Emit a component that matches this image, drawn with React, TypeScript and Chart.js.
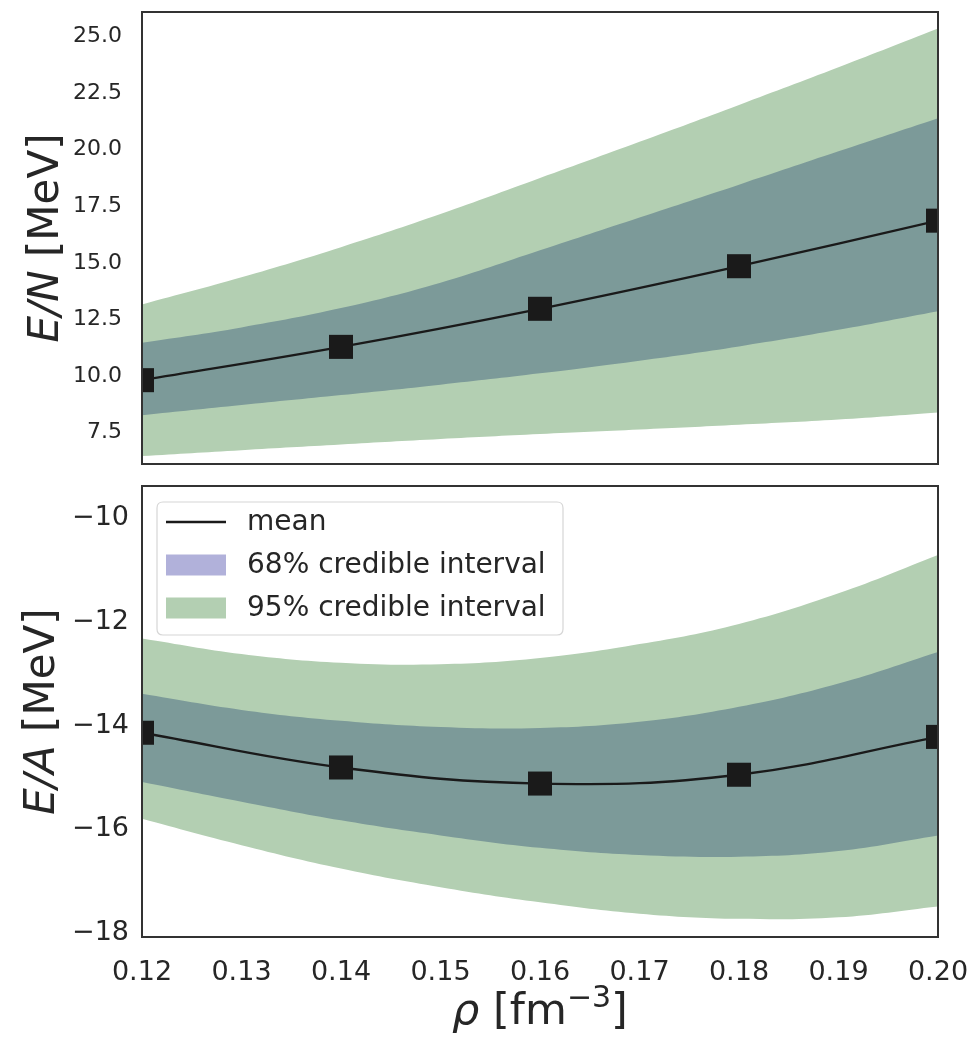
import React, { useEffect, useRef } from 'react';
import { Chart, registerables } from 'chart.js';

Chart.register(...registerables);

// ---------- data ----------
const rhoMean = [0.12, 0.14, 0.16, 0.18, 0.2];
const rhoBand = [0.12, 0.13, 0.14, 0.15, 0.16, 0.17, 0.18, 0.19, 0.2];
const rhoTicks = [0.12, 0.13, 0.14, 0.15, 0.16, 0.17, 0.18, 0.19, 0.2];

// E/N (top panel)
const enMean = [9.82, 11.29, 12.97, 14.85, 16.86];
const en95Upper = [13.16, 14.36, 15.69, 17.15, 18.74, 20.34, 21.97, 23.63, 25.34];
const en68Upper = [11.47, 12.15, 13.0, 14.12, 15.55, 17.0, 18.45, 19.92, 21.38];
const en68Lower = [8.27, 8.72, 9.16, 9.62, 10.12, 10.68, 11.31, 12.04, 12.86];
const en95Lower = [6.47, 6.73, 6.98, 7.22, 7.44, 7.64, 7.85, 8.08, 8.39];
const enTicks = [7.5, 10, 12.5, 15, 17.5, 20, 22.5, 25];

// E/A (bottom panel)
const eaMean = [-14.14, -14.81, -15.12, -14.95, -14.22];
const ea95Upper = [-12.32, -12.62, -12.79, -12.82, -12.7, -12.43, -12.04, -11.45, -10.71];
const ea68Upper = [-13.39, -13.7, -13.91, -14.03, -14.05, -13.93, -13.64, -13.19, -12.58];
const ea68Lower = [-15.09, -15.47, -15.83, -16.12, -16.36, -16.5, -16.53, -16.42, -16.12];
const ea95Lower = [-15.8, -16.31, -16.76, -17.12, -17.41, -17.63, -17.73, -17.7, -17.49];
const eaTicks = [-18, -16, -14, -12, -10];

const legendLabels = ['mean', '68% credible interval', '95% credible interval'];

// ---------- style ----------
const FAMILY = '"DejaVu Sans"';
const GREEN = 'rgb(179,207,178)';
const TEAL = 'rgb(124,154,153)';
const LAVENDER = 'rgb(177,177,218)';
const INK = '#262626';
const MEAN = '#1a1a1a';

const pts = (xs: number[], ys: number[]) => xs.map((x, i) => ({ x, y: ys[i] }));

function makeDatasets(mean: number[], u68: number[], l68: number[], u95: number[], l95: number[]) {
  const band = {
    borderWidth: 0,
    borderColor: 'rgba(0,0,0,0)',
    pointRadius: 0,
    tension: 0.4,
  };
  return [
    {
      label: legendLabels[0],
      data: pts(rhoMean, mean),
      borderColor: MEAN,
      borderWidth: 2.3,
      pointStyle: 'rect',
      pointRadius: 17,
      pointBackgroundColor: MEAN,
      pointBorderWidth: 0,
      tension: 0.4,
      fill: false,
    },
    { label: '68 upper', data: pts(rhoBand, u68), ...band, fill: '+1', backgroundColor: TEAL },
    { label: '68 lower', data: pts(rhoBand, l68), ...band, fill: false },
    { label: '95 upper', data: pts(rhoBand, u95), ...band, fill: '+1', backgroundColor: GREEN },
    { label: '95 lower', data: pts(rhoBand, l95), ...band, fill: false },
  ];
}

type Part = { text: string; font: string; dy?: number };

function drawRich(ctx: CanvasRenderingContext2D, parts: Part[], cx: number, cy: number, rotate: boolean) {
  ctx.save();
  ctx.translate(cx, cy);
  if (rotate) ctx.rotate(-Math.PI / 2);
  ctx.fillStyle = INK;
  ctx.textBaseline = 'alphabetic';
  ctx.textAlign = 'left';
  let total = 0;
  const widths = parts.map((p) => {
    ctx.font = p.font;
    const w = ctx.measureText(p.text).width;
    total += w;
    return w;
  });
  let x = -total / 2;
  parts.forEach((p, i) => {
    ctx.font = p.font;
    ctx.fillText(p.text, x, p.dy || 0);
    x += widths[i];
  });
  ctx.restore();
}

const decorPlugin = {
  id: 'decor',
  afterDraw(chart: any, _args: any, opts: any) {
    const ctx: CanvasRenderingContext2D = chart.ctx;
    const a = chart.chartArea;
    ctx.save();
    // frame
    ctx.strokeStyle = '#333333';
    ctx.lineWidth = 2;
    ctx.strokeRect(a.left, a.top, a.right - a.left, a.bottom - a.top);

    if (opts.yTitle) {
      drawRich(ctx, opts.yTitle, opts.yTitleX, (a.top + a.bottom) / 2, true);
    }
    if (opts.xTitle) {
      drawRich(ctx, opts.xTitle, (a.left + a.right) / 2, opts.xTitleY, false);
    }
    if (opts.legend) {
      const L = opts.legend;
      ctx.beginPath();
      const r = 6;
      const x0 = L.x, y0 = L.y, w = L.w, h = L.h;
      ctx.moveTo(x0 + r, y0);
      ctx.lineTo(x0 + w - r, y0);
      ctx.quadraticCurveTo(x0 + w, y0, x0 + w, y0 + r);
      ctx.lineTo(x0 + w, y0 + h - r);
      ctx.quadraticCurveTo(x0 + w, y0 + h, x0 + w - r, y0 + h);
      ctx.lineTo(x0 + r, y0 + h);
      ctx.quadraticCurveTo(x0, y0 + h, x0, y0 + h - r);
      ctx.lineTo(x0, y0 + r);
      ctx.quadraticCurveTo(x0, y0, x0 + r, y0);
      ctx.closePath();
      ctx.fillStyle = 'rgba(255,255,255,0.85)';
      ctx.fill();
      ctx.strokeStyle = '#d6d6d6';
      ctx.lineWidth = 1.2;
      ctx.stroke();

      const hx0 = x0 + 9, hw = 60;
      const rows = L.rows as number[];
      ctx.strokeStyle = MEAN;
      ctx.lineWidth = 2.3;
      ctx.beginPath();
      ctx.moveTo(hx0, rows[0]);
      ctx.lineTo(hx0 + hw, rows[0]);
      ctx.stroke();
      ctx.fillStyle = LAVENDER;
      ctx.fillRect(hx0, rows[1] - 10.5, hw, 21);
      ctx.fillStyle = GREEN;
      ctx.fillRect(hx0, rows[2] - 10.5, hw, 21);
      ctx.fillStyle = INK;
      ctx.font = `28px ${FAMILY}`;
      ctx.textBaseline = 'middle';
      ctx.textAlign = 'left';
      legendLabels.forEach((t, i) => ctx.fillText(t, x0 + 90, rows[i] + 1));
    }
    ctx.restore();
  },
};

function noPad(s: any) {
  s.paddingLeft = 0;
  s.paddingRight = 0;
  s.paddingTop = 0;
  s.paddingBottom = 0;
}

const hiddenGrid = { display: false, drawTicks: false };

function topConfig(): any {
  return {
    type: 'line',
    data: { datasets: makeDatasets(enMean, en68Upper, en68Lower, en95Upper, en95Lower) },
    options: {
      responsive: false,
      devicePixelRatio: 1,
      animation: false,
      events: [],
      layout: { autoPadding: false, padding: { left: 0, right: 39, top: 12, bottom: 11 } },
      scales: {
        x: { type: 'linear', min: 0.12, max: 0.2, display: false },
        y: {
          type: 'linear',
          min: 6.12,
          max: 26.07,
          grid: hiddenGrid,
          border: { display: false },
          afterBuildTicks: (s: any) => {
            s.ticks = enTicks.map((v) => ({ value: v }));
          },
          afterFit: (s: any) => {
            s.width = 142;
            noPad(s);
          },
          ticks: {
            padding: 20,
            color: INK,
            font: { family: 'DejaVu Sans', size: 22 },
            callback: (v: number) => Number(v).toFixed(1),
          },
        },
      },
      plugins: {
        legend: { display: false },
        tooltip: { enabled: false },
        decor: {
          yTitle: [
            { text: 'E/N', font: `italic 42px ${FAMILY}` },
            { text: ' [MeV]', font: `42px ${FAMILY}` },
          ],
          yTitleX: 58,
        },
      },
    },
    plugins: [decorPlugin],
  };
}

function bottomConfig(): any {
  return {
    type: 'line',
    data: { datasets: makeDatasets(eaMean, ea68Upper, ea68Lower, ea95Upper, ea95Lower) },
    options: {
      responsive: false,
      devicePixelRatio: 1,
      animation: false,
      events: [],
      layout: { autoPadding: false, padding: { left: 0, right: 39, top: 11, bottom: 0 } },
      scales: {
        x: {
          type: 'linear',
          min: 0.12,
          max: 0.2,
          grid: hiddenGrid,
          border: { display: false },
          afterBuildTicks: (s: any) => {
            s.ticks = rhoTicks.map((v) => ({ value: v }));
          },
          afterFit: (s: any) => {
            s.height = 102;
            noPad(s);
          },
          ticks: {
            padding: 20,
            color: INK,
            maxRotation: 0,
            autoSkip: false,
            font: { family: 'DejaVu Sans', size: 27 },
            callback: (v: number) => Number(v).toFixed(2),
          },
        },
        y: {
          type: 'linear',
          min: -18.08,
          max: -9.38,
          grid: hiddenGrid,
          border: { display: false },
          afterBuildTicks: (s: any) => {
            s.ticks = eaTicks.map((v) => ({ value: v }));
          },
          afterFit: (s: any) => {
            s.width = 142;
            noPad(s);
          },
          ticks: {
            padding: 13,
            color: INK,
            font: { family: 'DejaVu Sans', size: 27 },
            callback: (v: number) => (v < 0 ? '\u2212' + Math.abs(v) : String(v)),
          },
        },
      },
      plugins: {
        legend: { display: false },
        tooltip: { enabled: false },
        decor: {
          yTitle: [
            { text: 'E/A', font: `italic 42px ${FAMILY}` },
            { text: ' [MeV]', font: `42px ${FAMILY}` },
          ],
          yTitleX: 54,
          xTitle: [
            { text: '\u03C1', font: `italic 43px ${FAMILY}` },
            { text: ' [fm', font: `43px ${FAMILY}` },
            { text: '\u22123', font: `30px ${FAMILY}`, dy: -17 },
            { text: ']', font: `43px ${FAMILY}` },
          ],
          xTitleY: 549,
          legend: { x: 157, y: 27, w: 406, h: 133, rows: [47, 90, 133] },
        },
      },
    },
    plugins: [decorPlugin],
  };
}

export default function App() {
  const topRef = useRef<HTMLCanvasElement>(null);
  const botRef = useRef<HTMLCanvasElement>(null);

  useEffect(() => {
    const c1 = new Chart(topRef.current as HTMLCanvasElement, topConfig());
    const c2 = new Chart(botRef.current as HTMLCanvasElement, bottomConfig());
    return () => {
      c1.destroy();
      c2.destroy();
    };
  }, []);

  return (
    <div style={{ position: 'absolute', left: 0, top: 0, width: 977, height: 1039, background: '#ffffff' }}>
      <canvas ref={topRef} width={977} height={475} style={{ position: 'absolute', left: 0, top: 0 }} />
      <canvas ref={botRef} width={977} height={564} style={{ position: 'absolute', left: 0, top: 475 }} />
    </div>
  );
}
